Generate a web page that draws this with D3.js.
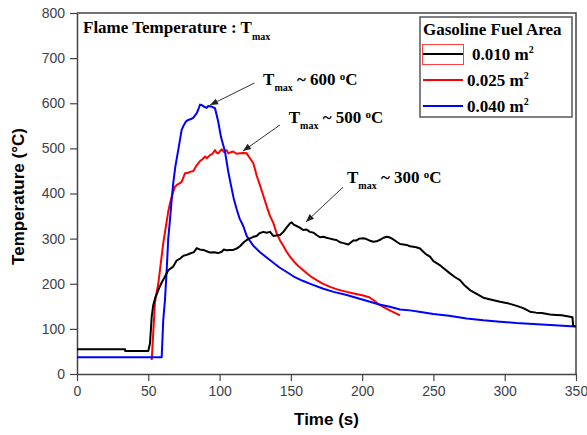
<!DOCTYPE html>
<html>
<head>
<meta charset="utf-8">
<script src="https://cdn.jsdelivr.net/npm/d3@7/dist/d3.min.js"></script>
<style>
  html, body { margin: 0; padding: 0; background: #fff; }
  svg { display: block; }
</style>
</head>
<body>
<svg id="chart" width="587" height="435"></svg>
<script>
// ---------- data ----------
const xTicks = [0, 50, 100, 150, 200, 250, 300, 350];
const yTicks = [0, 100, 200, 300, 400, 500, 600, 700, 800];

const seriesNames = ["0.010", "0.025", "0.040"];
const seriesColors = ["#000000", "#ff0000", "#0000ff"];

// [time (s), temperature (°C)]
const area010 = [[0,55],[33.7,55],[33.8,51],[50,51],[51.2,68],[52.4,127],[53.5,153],[55,170],[57,186],[59,200],[61.7,216],[64,230],[67.5,238],[70,252],[72,255],[74.6,262],[77,264],[79.3,267],[82,270],[84,279],[86,276],[88.6,275],[91,272],[93.3,269],[96,270],[99,268],[101.5,271],[103,276],[105,274],[107.3,275],[109.6,275],[112,278],[114.3,283],[117,292],[119,297],[121,300],[123.7,304],[126,306],[128,312],[130.7,315],[133,313],[135.4,315],[137.7,306],[140,307],[142.4,308],[144.5,314],[147.1,325],[149.4,334],[150.6,336],[152,331],[154,328],[156,325],[158.7,319],[161,320],[163.4,315],[166,313],[168,308],[170.4,303],[172.8,304],[175,302],[177.5,300],[180,298],[182,297],[184.5,292],[187,290],[190.3,287],[193.8,296],[196,296],[198,300],[200.8,301],[203,299],[205,296],[207.8,293],[210.2,294],[213,298],[215,302],[217.2,304],[219,303],[221,300],[224.2,293],[226.6,288],[229,287],[231.2,286],[233.5,283],[235.9,282],[238,281],[240.6,278],[242.9,271],[245,265],[247.6,260],[250,250],[255,240],[261.6,223],[265,215],[268.6,208],[272,196],[275.6,186],[280,178],[285,169],[290,165],[296.7,160],[302,157],[308.4,151],[313,146],[317.7,138],[322,136],[326,135],[331.8,132],[336,131],[340,130],[345.8,127],[347.5,126],[348,107],[350,105]];

const area025 = [[52.4,31],[54.7,160],[57,200],[60.5,290],[62,320],[64,360],[65.2,378],[66.4,393],[68.7,415],[70,419],[72.2,423],[73.4,426],[75.8,445],[78,446],[79.3,448],[81.6,450],[84,463],[86.3,472],[88,476],[89.8,482],[91,478],[93.3,485],[95,488],[96.8,496],[98,490],[99.1,489],[100.3,494],[101.5,498],[103,492],[105,496],[106.1,489],[107.5,491],[109.6,493],[112,488],[114.3,489],[116.6,490],[119,489],[121.3,478],[123.7,467],[126,440],[128.5,417],[130.7,395],[133,372],[135.4,350],[137.7,335],[140,312],[142.4,296],[144.7,284],[147,271],[149.4,260],[152,250],[155,240],[158.7,230],[162,221],[165,214],[168.1,208],[172,201],[177.5,193],[183,187],[189.2,182],[195,178],[200.8,174],[205,170],[207.8,164],[211,156],[214.8,149],[220,140],[226.6,130]];

const area040 = [[0,37],[59.4,37],[60.5,120],[61.7,164],[62.9,230],[64,300],[65.2,341],[66.4,386],[67.5,423],[69,460],[71,496],[73.4,541],[75,552],[76.5,560],[78,563],[80,565],[81.6,568],[84,578],[85.5,590],[86.3,597],[87.5,596],[89.8,591],[91,590],[92.1,594],[94,593],[96.8,589],[99,560],[101,525],[103.8,493],[106,450],[108,418],[110,388],[112,365],[114,345],[116.6,328],[119,306],[121.3,295],[124,283],[128.4,270],[133,258],[138,246],[142,236],[147.1,226],[152,216],[158.7,206],[165,198],[172.8,189],[180,182],[189.2,175],[197,168],[205.5,160],[212,154],[219.5,149],[226.6,143],[233.6,141],[240,138],[250,133],[261,129],[273.3,123],[285,119],[296.7,116],[308,113],[320,111],[335,108],[349.3,105]];

const peakLabels = ["600", "500", "300"];

// ---------- layout ----------
const svg = d3.select("#chart");
const x = d3.scaleLinear().domain([0, 350]).range([77, 576]);
const y = d3.scaleLinear().domain([0, 800]).range([374, 13]);

const sans = "'Liberation Sans', Arial, sans-serif";
const serif = "'Liberation Serif', 'Times New Roman', serif";
const axisColor = "#444";

// frame (top & right)
svg.append("path")
  .attr("d", `M${x(0)},${y(800)}H${x(350)}V${y(0)}`)
  .attr("fill", "none").attr("stroke", axisColor).attr("stroke-width", 1.5);

// axes
const gx = svg.append("g").attr("transform", `translate(0,${y(0)})`)
  .call(d3.axisBottom(x).tickValues(xTicks).tickSize(7).tickSizeOuter(0).tickPadding(5));
const gy = svg.append("g").attr("transform", `translate(${x(0)},0)`)
  .call(d3.axisLeft(y).tickValues(yTicks).tickSize(7).tickSizeOuter(0).tickPadding(5));
[gx, gy].forEach(g => {
  g.select(".domain").attr("stroke", axisColor).attr("stroke-width", 1.5);
  g.selectAll(".tick line").attr("stroke", axisColor).attr("stroke-width", 1.2);
  g.selectAll(".tick text").attr("fill", "#404048").style("font-family", sans).style("font-size", "14px");
});

// axis titles
svg.append("text")
  .attr("transform", `translate(24,${(y(0) + y(800)) / 2 + 3}) rotate(-90)`)
  .attr("text-anchor", "middle")
  .style("font-family", sans).style("font-weight", "bold").style("font-size", "17px")
  .text("Temperature (°C)");
svg.append("text")
  .attr("x", (x(0) + x(350)) / 2).attr("y", 425)
  .attr("text-anchor", "middle")
  .style("font-family", sans).style("font-weight", "bold").style("font-size", "17px")
  .text("Time (s)");

// series
const line = d3.line().x(d => x(d[0])).y(d => y(d[1]));
const allSeries = [area010, area025, area040];
[1, 2, 0].forEach(i => {
  svg.append("path").datum(allSeries[i])
    .attr("d", line)
    .attr("fill", "none")
    .attr("stroke", seriesColors[i])
    .attr("stroke-width", 2)
    .attr("stroke-linejoin", "round");
});

// title inside plot
const title = svg.append("text").attr("x", 83).attr("y", 33)
  .style("font-family", serif).style("font-weight", "bold").style("font-size", "17px");
title.append("tspan").text("Flame Temperature : T");
title.append("tspan").attr("dy", 7).style("font-size", "10px").text("max");

// annotations (positions in data units)
const ann = [
  { tx: 130.5, ty: 640, x1: 124.5, y1: 645, x2: 93.3, y2: 596 },
  { tx: 148.5, ty: 556, x1: 142.4, y1: 552, x2: 116.4, y2: 494 },
  { tx: 189.4, ty: 423, x1: 186.6, y1: 414, x2: 160.6, y2: 337 }
];
svg.append("defs").append("marker")
  .attr("id", "arr").attr("viewBox", "0 0 10 10").attr("refX", 10).attr("refY", 5)
  .attr("markerWidth", 10).attr("markerHeight", 8).attr("markerUnits", "userSpaceOnUse")
  .attr("orient", "auto")
  .append("path").attr("d", "M0,1L10,5L0,9Z").attr("fill", "#222");
ann.forEach((a, i) => {
  svg.append("line")
    .attr("x1", x(a.x1)).attr("y1", y(a.y1)).attr("x2", x(a.x2)).attr("y2", y(a.y2))
    .attr("stroke", "#333").attr("stroke-width", 1).attr("marker-end", "url(#arr)");
  const t = svg.append("text").attr("x", x(a.tx)).attr("y", y(a.ty))
    .style("font-family", serif).style("font-weight", "bold").style("font-size", "17px");
  t.append("tspan").text("T");
  t.append("tspan").attr("dy", 6).style("font-size", "10px").text("max");
  t.append("tspan").attr("dy", -6).text(" ~ " + peakLabels[i] + " ");
  t.append("tspan").attr("dy", -5).style("font-size", "11px").text("o");
  t.append("tspan").attr("dy", 5).text("C");
});

// legend
const lg = svg.append("g");
lg.append("rect").attr("x", 420).attr("y", 17).attr("width", 152).attr("height", 100)
  .attr("fill", "#fff").attr("stroke", "#555").attr("stroke-width", 1.5);
lg.append("text").attr("x", 423).attr("y", 35)
  .style("font-family", serif).style("font-weight", "bold").style("font-size", "17px")
  .text("Gasoline Fuel Area");
const rowY = [54, 80, 106];
const textX = [472, 467, 467];
seriesNames.forEach((n, i) => {
  if (i === 0) {
    lg.append("rect").attr("x", 422.5).attr("y", 44.5).attr("width", 41).attr("height", 20)
      .attr("fill", "none").attr("stroke", "#ff4040").attr("stroke-width", 1);
  }
  lg.append("line").attr("x1", 423).attr("x2", 463).attr("y1", rowY[i]).attr("y2", rowY[i])
    .attr("stroke", seriesColors[i]).attr("stroke-width", 2);
  const t = lg.append("text").attr("x", textX[i]).attr("y", rowY[i] + 6)
    .style("font-family", serif).style("font-weight", "bold").style("font-size", "17px");
  t.append("tspan").text(n + " m");
  t.append("tspan").attr("dy", -7).style("font-size", "10px").text("2");
});
</script>
</body>
</html>
